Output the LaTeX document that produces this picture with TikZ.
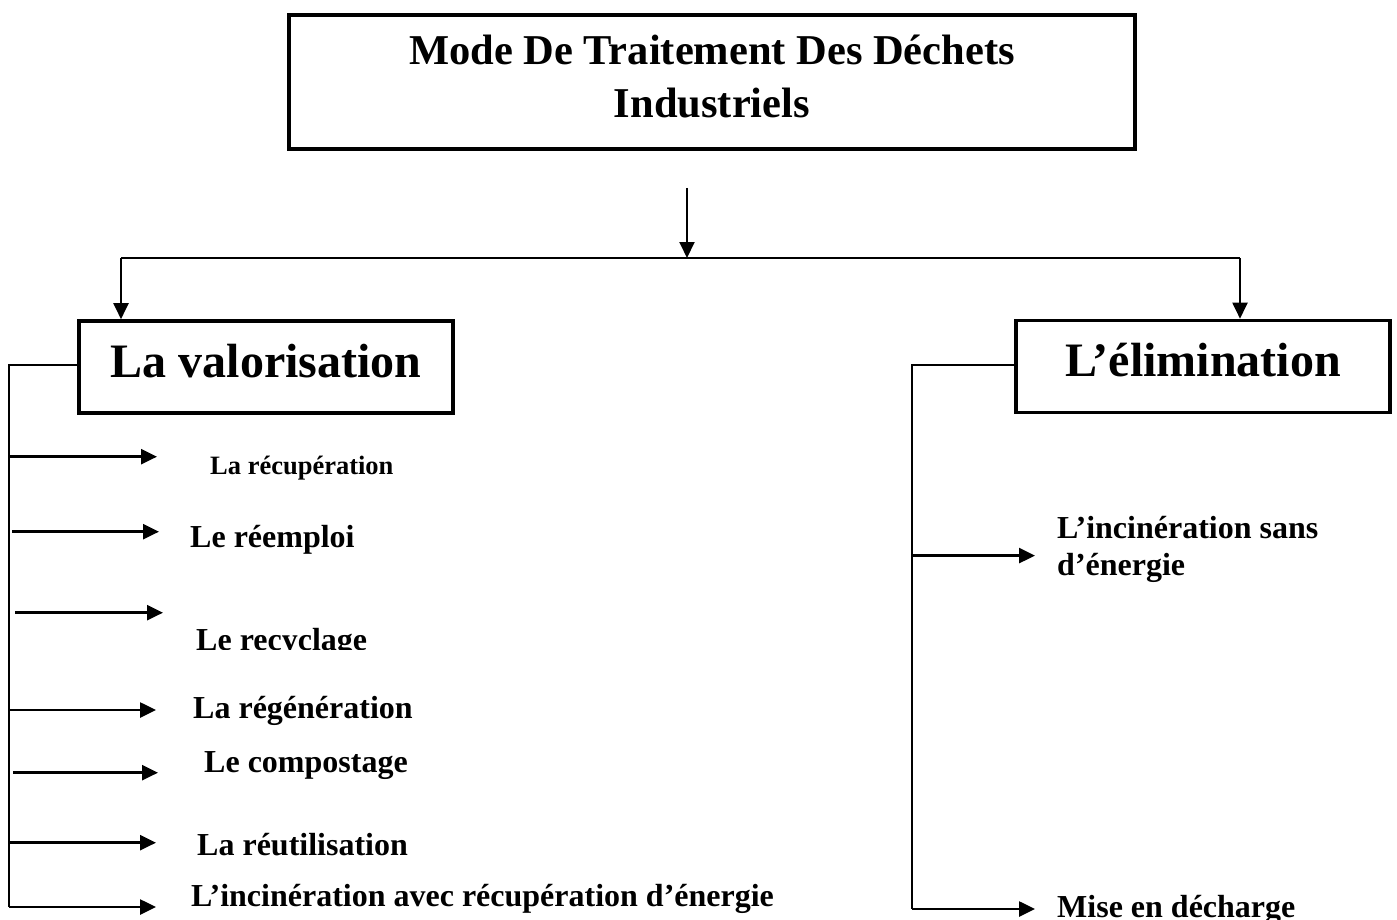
\documentclass[tikz,border=0pt]{standalone}
\usepackage{fontspec}
\setmainfont{Liberation Serif}
\usetikzlibrary{arrows.meta,positioning}

\begin{document}
\begin{tikzpicture}[x=1pt,y=-1pt,font=\bfseries,
 bigbox/.style={draw,line width=3.6pt,inner sep=0pt,minimum width=374pt,minimum height=92pt,font=\bfseries\fontsize{48}{56}\selectfont,text height=34pt,text depth=14pt},
 leaf/.style={anchor=base west,inner sep=0pt,font=\bfseries\fontsize{32}{37}\selectfont},
 rail/.style={line width=1.4pt},
 darr/.style={line width=2pt,-{Triangle[length=16pt,width=15pt]}},
 harr/.style={line width=2.6pt,-{Triangle[length=16pt,width=15pt]}}]
\useasboundingbox (0,0) rectangle (1397,920);

% title and the two families
\node[draw,line width=3.6pt,inner sep=0pt,minimum width=846pt,minimum height=134pt,align=center,font=\bfseries\fontsize{42.5}{53}\selectfont,text height=72pt,text depth=0pt] (title) at (712,82) {Mode De Traitement Des Déchets\\Industriels};
\node[bigbox] (valo) at (266,367) {La valorisation};
\node[bigbox] (elim) at (1203,366.5) {L’élimination};

\coordinate (split) at (687,258);
\coordinate (lhook) at (121,258);
\coordinate (rhook) at (1240,258);
\draw[darr] ([yshift=70pt]split) -- (split);
\draw[rail] (lhook) -- (rhook);
\draw[darr] (lhook) -- (lhook |- valo.north);
\draw[darr] (rhook) -- (rhook |- elim.north);

% valorisation branch
\coordinate (lrail) at (9,365);
\coordinate (lfoot) at (9,907);
\draw[rail] (valo.west |- lrail) -- (lrail) -- (lfoot);
\foreach \i/\y/\xa/\xb in {1/456.7/0/157,2/531.7/3/159,3/612.7/6/163,4/710/0/156,5/772.7/4/158,6/842.7/0/156,7/907/0/156} {
  \coordinate (vt\i) at (\xb,\y);
  \draw[harr] ([xshift=\xa pt]vt\i -| lrail) -- (vt\i);
}
\node[leaf,font=\bfseries\fontsize{26.5}{30}\selectfont] (recup) at (210,474) {La récupération};
\node[leaf] (reemploi) at (190,547) {Le réemploi};
\begin{scope}
\clip (150,600) rectangle (420,649);
\node[leaf] (recyc) at (196,650) {Le recyclage};
\end{scope}
\node[leaf] (regen) at (193,718) {La régénération};
\node[leaf] (compost) at (204,772) {Le compostage};
\node[leaf] (reutil) at (197,855) {La réutilisation};
\node[leaf] (incval) at (191,906) {L’incinération avec récupération d’énergie};

% elimination branch
\coordinate (rrail) at (912,365);
\coordinate (rfoot) at (912,909);
\draw[rail] (elim.west |- rrail) -- (rrail) -- (rfoot);
\coordinate (et1) at (1035,555.6);
\coordinate (et2) at (1035,909);
\draw[harr] (et1 -| rrail) -- (et1);
\draw[harr] (rfoot) -- (et2);
\node[leaf,align=left] (incsans) at (1057,575) {L’incinération sans\\d’énergie};
\node[leaf] (decharge) at (1057,917.5) {Mise en décharge};
\end{tikzpicture}
\end{document}
